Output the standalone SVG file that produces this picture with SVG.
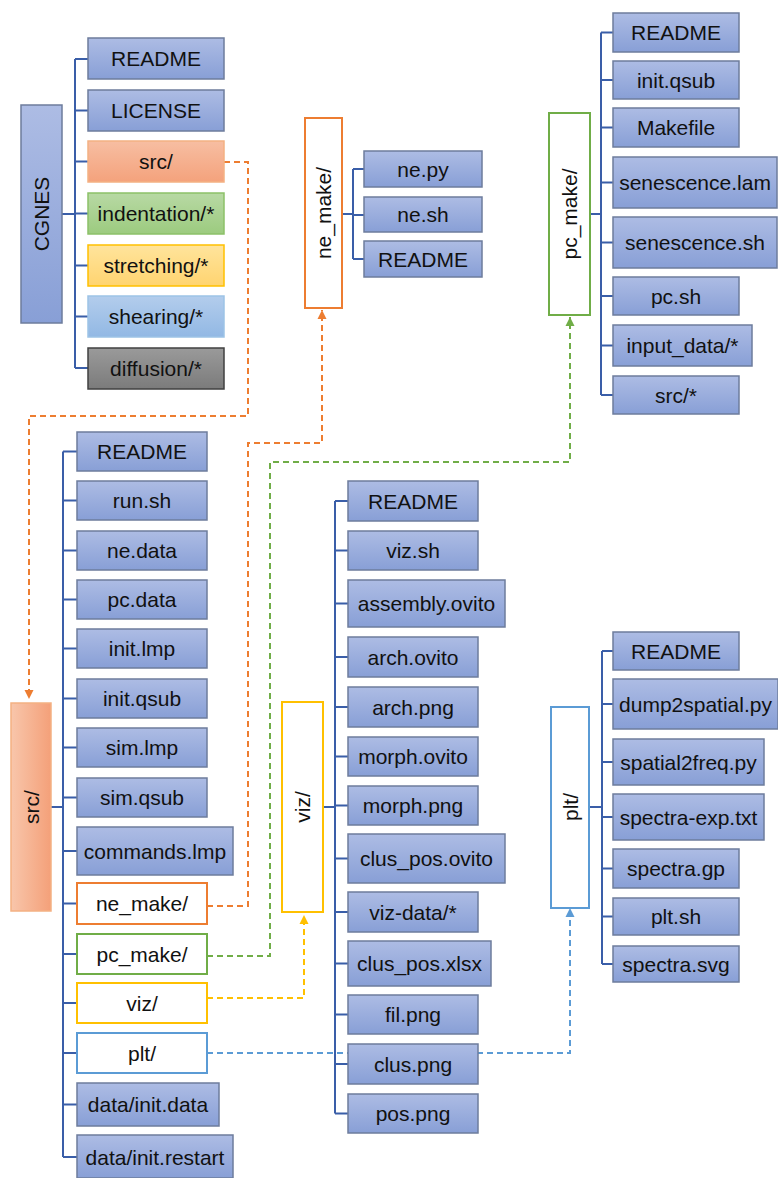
<svg xmlns="http://www.w3.org/2000/svg" width="778" height="1178" viewBox="0 0 778 1178">
<defs>
<linearGradient id="gBlue" x1="0" y1="0" x2="0" y2="1"><stop offset="0" stop-color="#adbce4"/><stop offset="1" stop-color="#889fd6"/></linearGradient>
<linearGradient id="gOrange" x1="0" y1="0" x2="0" y2="1"><stop offset="0" stop-color="#f7bea2"/><stop offset="1" stop-color="#f4a27c"/></linearGradient>
<linearGradient id="gOrangeH" x1="0" y1="0" x2="1" y2="0"><stop offset="0" stop-color="#f8c6ab"/><stop offset="1" stop-color="#f4a079"/></linearGradient>
<linearGradient id="gGreen" x1="0" y1="0" x2="0" y2="1"><stop offset="0" stop-color="#b8d9a4"/><stop offset="1" stop-color="#9ccb7f"/></linearGradient>
<linearGradient id="gYellow" x1="0" y1="0" x2="0" y2="1"><stop offset="0" stop-color="#ffe49c"/><stop offset="1" stop-color="#ffd470"/></linearGradient>
<linearGradient id="gLBlue" x1="0" y1="0" x2="0" y2="1"><stop offset="0" stop-color="#b3cdec"/><stop offset="1" stop-color="#92b8e4"/></linearGradient>
<linearGradient id="gGray" x1="0" y1="0" x2="0" y2="1"><stop offset="0" stop-color="#9a9a9a"/><stop offset="1" stop-color="#7b7b7b"/></linearGradient>
<marker id="aO" viewBox="0 0 10 10" refX="10" refY="5" markerWidth="9" markerHeight="10" markerUnits="userSpaceOnUse" orient="auto"><path d="M0,0 L10,5 L0,10 z" fill="#ed7d31"/></marker>
<marker id="aG" viewBox="0 0 10 10" refX="10" refY="5" markerWidth="9" markerHeight="10" markerUnits="userSpaceOnUse" orient="auto"><path d="M0,0 L10,5 L0,10 z" fill="#70ad47"/></marker>
<marker id="aY" viewBox="0 0 10 10" refX="10" refY="5" markerWidth="9" markerHeight="10" markerUnits="userSpaceOnUse" orient="auto"><path d="M0,0 L10,5 L0,10 z" fill="#ffc000"/></marker>
<marker id="aB" viewBox="0 0 10 10" refX="10" refY="5" markerWidth="9" markerHeight="10" markerUnits="userSpaceOnUse" orient="auto"><path d="M0,0 L10,5 L0,10 z" fill="#5b9bd5"/></marker>
</defs>
<style>
text{font-family:"Liberation Sans",Arial,sans-serif;font-size:21px;fill:#111;text-anchor:middle;dominant-baseline:central}
.f{fill:url(#gBlue);stroke:#6d7c9c;stroke-width:1.5}
.tree{fill:none;stroke:#3a5ea8;stroke-width:2}
.d{fill:none;stroke-width:2;stroke-dasharray:6 4}
.wO{fill:#fff;stroke:#ed7d31;stroke-width:2}
.wG{fill:#fff;stroke:#70ad47;stroke-width:2}
.wY{fill:#fff;stroke:#ffc000;stroke-width:2}
.wB{fill:#fff;stroke:#5b9bd5;stroke-width:2}
</style>

<g id="connectors">
<path class="tree" d="M62,214 H75 M75,59 V368 M75,59 H88 M75,110.5 H88 M75,161.5 H88 M75,213.5 H88 M75,265.5 H88 M75,316.5 H88 M75,368 H88"/>
<path class="tree" d="M51,807 H63 M63,451.5 V1157 M63,451.5 H77 M63,500.5 H77 M63,550.5 H77 M63,599.5 H77 M63,648.5 H77 M63,698.5 H77 M63,747.5 H77 M63,797.5 H77 M63,851 H77 M63,903.5 H77 M63,954 H77 M63,1003 H77 M63,1053 H77 M63,1104.5 H77 M63,1157 H77"/>
<path class="tree" d="M342,214 H353 M353,169 V259 M353,169 H364 M353,215 H364 M353,259 H364"/>
<path class="tree" d="M590,214 H601 M601,32.5 V395 M601,32.5 H613 M601,80 H613 M601,127.5 H613 M601,182.5 H613 M601,242.5 H613 M601,296 H613 M601,345.5 H613 M601,395 H613"/>
<path class="tree" d="M323,807 H335 M335,501 V1113.5 M335,501 H348 M335,550.5 H348 M335,603.5 H348 M335,657 H348 M335,707 H348 M335,756.5 H348 M335,805.5 H348 M335,858.5 H348 M335,912 H348 M335,963.5 H348 M335,1014.5 H348 M335,1064 H348 M335,1113.5 H348"/>
<path class="tree" d="M589,807 H602 M602,651 V964 M602,651 H613 M602,704 H613 M602,762 H613 M602,817 H613 M602,868.5 H613 M602,916.5 H613 M602,964 H613"/>
<path class="d" stroke="#ed7d31" d="M224,162 H248 V416 H29 V699" marker-end="url(#aO)"/>
<path class="d" stroke="#ed7d31" d="M207,906 H248 V443 H322 V310" marker-end="url(#aO)"/>
<path class="d" stroke="#70ad47" d="M207,956 H270 V462 H570 V317" marker-end="url(#aG)"/>
<path class="d" stroke="#ffc000" d="M207,998 H304 V915" marker-end="url(#aY)"/>
<path class="d" stroke="#5b9bd5" d="M207,1053 H570 V908" marker-end="url(#aB)"/>
</g>

<g id="CGNES"><rect x="21" y="105" width="41" height="218" class="f"/><text transform="translate(41.5,214) rotate(-90)">CGNES</text></g>
<g id="cg-readme"><rect x="88" y="38" width="136" height="41" class="f"/><text x="156" y="58.5">README</text></g>
<g id="cg-license"><rect x="88" y="90" width="136" height="41" class="f"/><text x="156" y="110.5">LICENSE</text></g>
<g id="cg-src"><rect x="88" y="141" width="136" height="41" fill="url(#gOrange)" stroke="#f4b183" stroke-width="1.5"/><text x="156" y="161.5">src/</text></g>
<g id="cg-indentation"><rect x="88" y="193" width="136" height="41" fill="url(#gGreen)" stroke="#8cc168" stroke-width="1.5"/><text x="156" y="213.5">indentation/*</text></g>
<g id="cg-stretching"><rect x="88" y="245" width="136" height="41" fill="url(#gYellow)" stroke="#ffc000" stroke-width="1.5"/><text x="156" y="265.5">stretching/*</text></g>
<g id="cg-shearing"><rect x="88" y="296" width="136" height="41" fill="url(#gLBlue)" stroke="#9dc3e6" stroke-width="1.5"/><text x="156" y="316.5">shearing/*</text></g>
<g id="cg-diffusion"><rect x="88" y="348" width="136" height="41" fill="url(#gGray)" stroke="#404040" stroke-width="1.5"/><text x="156" y="368.5">diffusion/*</text></g>

<g id="src"><rect x="11" y="703" width="40" height="208" fill="url(#gOrangeH)" stroke="#f4b183" stroke-width="1.5"/><text transform="translate(31,807) rotate(-90)">src/</text></g>
<g id="src-readme"><rect x="77" y="432" width="130" height="39" class="f"/><text x="142" y="451.5">README</text></g>
<g id="src-run"><rect x="77" y="481" width="130" height="39" class="f"/><text x="142" y="500.5">run.sh</text></g>
<g id="src-nedata"><rect x="77" y="531" width="130" height="39" class="f"/><text x="142" y="550.5">ne.data</text></g>
<g id="src-pcdata"><rect x="77" y="580" width="130" height="39" class="f"/><text x="142" y="599.5">pc.data</text></g>
<g id="src-initlmp"><rect x="77" y="629" width="130" height="39" class="f"/><text x="142" y="648.5">init.lmp</text></g>
<g id="src-initqsub"><rect x="77" y="679" width="130" height="39" class="f"/><text x="142" y="698.5">init.qsub</text></g>
<g id="src-simlmp"><rect x="77" y="728" width="130" height="39" class="f"/><text x="142" y="747.5">sim.lmp</text></g>
<g id="src-simqsub"><rect x="77" y="778" width="130" height="39" class="f"/><text x="142" y="797.5">sim.qsub</text></g>
<g id="src-commands"><rect x="77" y="827" width="156" height="48" class="f"/><text x="155" y="851">commands.lmp</text></g>
<g id="src-nemake"><rect x="77" y="883" width="130" height="41" class="wO"/><text x="142" y="903.5">ne_make/</text></g>
<g id="src-pcmake"><rect x="77" y="934" width="130" height="40" class="wG"/><text x="142" y="954">pc_make/</text></g>
<g id="src-viz"><rect x="77" y="983" width="130" height="40" class="wY"/><text x="142" y="1003">viz/</text></g>
<g id="src-plt"><rect x="77" y="1033" width="130" height="40" class="wB"/><text x="142" y="1053">plt/</text></g>
<g id="src-initdata"><rect x="77" y="1083" width="142" height="43" class="f"/><text x="148" y="1104.5">data/init.data</text></g>
<g id="src-initrestart"><rect x="77" y="1135" width="156" height="43" class="f"/><text x="155" y="1157">data/init.restart</text></g>

<g id="ne_make"><rect x="305" y="118" width="37" height="190" class="wO"/><text transform="translate(323.5,213) rotate(-90)">ne_make/</text></g>
<g id="ne-py"><rect x="364" y="151" width="118" height="36" class="f"/><text x="423" y="169">ne.py</text></g>
<g id="ne-sh"><rect x="364" y="197" width="118" height="35" class="f"/><text x="423" y="214.5">ne.sh</text></g>
<g id="ne-readme"><rect x="364" y="241" width="118" height="36" class="f"/><text x="423" y="259">README</text></g>

<g id="pc_make"><rect x="549" y="113" width="41" height="202" class="wG"/><text transform="translate(569.5,214) rotate(-90)">pc_make/</text></g>
<g id="pc-readme"><rect x="613" y="13" width="126" height="39" class="f"/><text x="676" y="32.5">README</text></g>
<g id="pc-initqsub"><rect x="613" y="61" width="126" height="38" class="f"/><text x="676" y="80">init.qsub</text></g>
<g id="pc-makefile"><rect x="613" y="108" width="126" height="39" class="f"/><text x="676" y="127.5">Makefile</text></g>
<g id="pc-senlam"><rect x="613" y="157" width="164" height="51" class="f"/><text x="695" y="182.5">senescence.lam</text></g>
<g id="pc-sensh"><rect x="613" y="217" width="164" height="51" class="f"/><text x="695" y="242.5">senescence.sh</text></g>
<g id="pc-pcsh"><rect x="613" y="277" width="126" height="38" class="f"/><text x="676" y="296">pc.sh</text></g>
<g id="pc-input"><rect x="613" y="325" width="139" height="41" class="f"/><text x="682.5" y="345.5">input_data/*</text></g>
<g id="pc-src"><rect x="613" y="376" width="126" height="38" class="f"/><text x="676" y="395">src/*</text></g>

<g id="viz"><rect x="282" y="702" width="41" height="210" class="wY"/><text transform="translate(302.5,807) rotate(-90)">viz/</text></g>
<g id="viz-readme"><rect x="348" y="481" width="130" height="40" class="f"/><text x="413" y="501">README</text></g>
<g id="viz-vizsh"><rect x="348" y="531" width="130" height="39" class="f"/><text x="413" y="550.5">viz.sh</text></g>
<g id="viz-assembly"><rect x="348" y="580" width="157" height="47" class="f"/><text x="426.5" y="603.5">assembly.ovito</text></g>
<g id="viz-archovito"><rect x="348" y="637" width="130" height="40" class="f"/><text x="413" y="657">arch.ovito</text></g>
<g id="viz-archpng"><rect x="348" y="687" width="130" height="40" class="f"/><text x="413" y="707">arch.png</text></g>
<g id="viz-morphovito"><rect x="348" y="737" width="130" height="39" class="f"/><text x="413" y="756.5">morph.ovito</text></g>
<g id="viz-morphpng"><rect x="348" y="786" width="130" height="39" class="f"/><text x="413" y="805.5">morph.png</text></g>
<g id="viz-cluspos"><rect x="348" y="834" width="157" height="49" class="f"/><text x="426.5" y="858.5">clus_pos.ovito</text></g>
<g id="viz-data"><rect x="348" y="892" width="130" height="40" class="f"/><text x="413" y="912">viz-data/*</text></g>
<g id="viz-xlsx"><rect x="348" y="941" width="143" height="45" class="f"/><text x="419.5" y="963.5">clus_pos.xlsx</text></g>
<g id="viz-fil"><rect x="348" y="995" width="130" height="39" class="f"/><text x="413" y="1014.5">fil.png</text></g>
<g id="viz-clus"><rect x="348" y="1044" width="130" height="40" class="f"/><text x="413" y="1064">clus.png</text></g>
<g id="viz-pos"><rect x="348" y="1094" width="130" height="39" class="f"/><text x="413" y="1113.5">pos.png</text></g>

<g id="plt"><rect x="551" y="707" width="38" height="201" class="wB"/><text transform="translate(570,807) rotate(-90)">plt/</text></g>
<g id="plt-readme"><rect x="613" y="632" width="126" height="38" class="f"/><text x="676" y="651">README</text></g>
<g id="plt-dump"><rect x="613" y="679" width="165" height="50" class="f"/><text x="695.5" y="704">dump2spatial.py</text></g>
<g id="plt-s2f"><rect x="613" y="739" width="151" height="46" class="f"/><text x="688.5" y="762">spatial2freq.py</text></g>
<g id="plt-exp"><rect x="613" y="794" width="151" height="46" class="f"/><text x="688.5" y="817">spectra-exp.txt</text></g>
<g id="plt-gp"><rect x="613" y="849" width="126" height="39" class="f"/><text x="676" y="868.5">spectra.gp</text></g>
<g id="plt-sh"><rect x="613" y="898" width="126" height="37" class="f"/><text x="676" y="916.5">plt.sh</text></g>
<g id="plt-svg"><rect x="613" y="946" width="126" height="36" class="f"/><text x="676" y="964">spectra.svg</text></g>
</svg>
